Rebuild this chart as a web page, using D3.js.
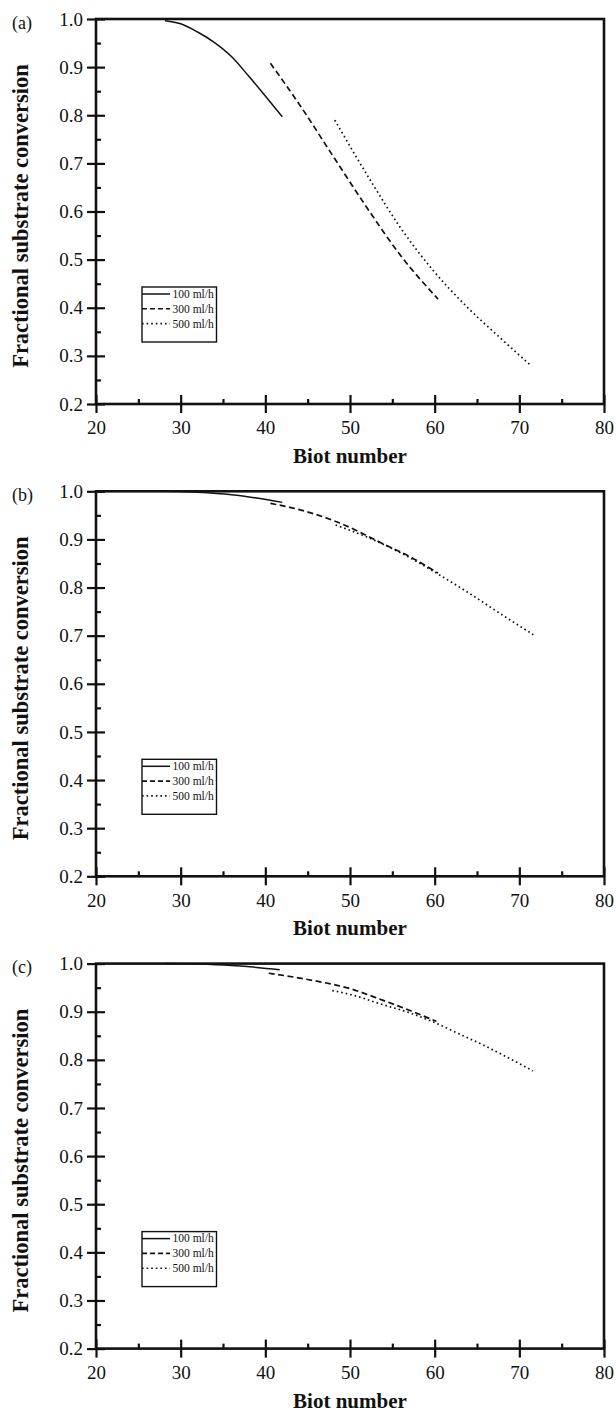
<!DOCTYPE html>
<html>
<head>
<meta charset="utf-8">
<script src="https://cdn.jsdelivr.net/npm/d3@7"></script>
<style>
  html, body { margin: 0; padding: 0; background: #fff; }
  svg { display: block; }
</style>
</head>
<body>
<svg id="chart" width="616" height="1412"></svg>
<script>
// Axis ticks and labels
const xMajor = [20, 30, 40, 50, 60, 70, 80];
const xMinor = [25, 35, 45, 55, 65, 75];
const yMajor = [0.2, 0.3, 0.4, 0.5, 0.6, 0.7, 0.8, 0.9, 1.0];
const yMinor = [0.25, 0.35, 0.45, 0.55, 0.65, 0.75, 0.85, 0.95];
const panelLabels = ["(a)", "(b)", "(c)"];
const flowRates = ["100 ml/h", "300 ml/h", "500 ml/h"];
const xTitle = "Biot number";
const yTitle = "Fractional substrate conversion";

// Panel (a): [Biot number, fractional conversion]
const a100 = [[28.15, 0.9965], [30, 0.99], [32, 0.973], [34, 0.951], [36, 0.922], [38, 0.882], [40, 0.84], [42, 0.797]];
const a300 = [[40.6, 0.908], [44, 0.823], [48, 0.715], [52, 0.608], [56, 0.508], [60.4, 0.418]];
const a500 = [[48.2, 0.79], [52.4, 0.665], [55.9, 0.568], [59.8, 0.478], [63.8, 0.402], [67.7, 0.338], [71.3, 0.281]];

// Panel (b)
const b100 = [[28.2, 1.0], [32, 0.998], [36, 0.993], [39, 0.986], [42, 0.977]];
const b300 = [[40.6, 0.975], [44, 0.962], [48.8, 0.934], [53.9, 0.891], [57.5, 0.86], [60.4, 0.83]];
const b500 = [[48.3, 0.93], [52, 0.905], [56, 0.872], [60.4, 0.828], [64, 0.789], [68, 0.743], [71.65, 0.702]];

// Panel (c)
const c100 = [[28.2, 1.0], [32, 0.999], [36, 0.996], [39, 0.992], [41.7, 0.987]];
const c300 = [[40.4, 0.98], [45, 0.967], [50, 0.948], [54, 0.923], [57, 0.903], [60.2, 0.88]];
const c500 = [[47.9, 0.944], [50, 0.936], [54, 0.914], [57, 0.898], [59.8, 0.879], [63, 0.853], [65.7, 0.831], [68.5, 0.806], [71.6, 0.777]];

const panels = [[a100, a300, a500], [b100, b300, b500], [c100, c300, c500]];

// Line styles per flow rate
const dashes = [null, "6,3.5", "1.6,3"];

const serif = "'Liberation Serif', 'Times New Roman', serif";
const ink = "#111";

const svg = d3.select("#chart");
const plotLeft = 96, plotRight = 604, plotTop = 19, plotBottom = 404;
const panelStep = 472.3;

const x = d3.scaleLinear().domain([20, 80]).range([plotLeft, plotRight]);
const y = d3.scaleLinear().domain([0.2, 1.0]).range([plotBottom, plotTop]);

const line = d3.line()
  .x(d => x(d[0]))
  .y(d => y(d[1]))
  .curve(d3.curveMonotoneX);

function styleAxis(g) {
  g.select(".domain").remove();
  g.selectAll(".tick line").attr("stroke", ink).attr("stroke-width", 2.2);
  g.selectAll(".tick text").attr("font-size", 19).attr("font-family", serif).attr("fill", ink);
}

panels.forEach((series, i) => {
  const g = svg.append("g")
    .attr("transform", `translate(0,${i * panelStep})`)
    .attr("font-family", serif);

  // Curves
  series.forEach((pts, k) => {
    g.append("path")
      .datum(pts)
      .attr("fill", "none")
      .attr("stroke", ink)
      .attr("stroke-width", k === 0 ? 1.5 : 1.7)
      .attr("stroke-dasharray", dashes[k])
      .attr("d", line);
  });

  // Left axis: outward ticks with labels, inward major and minor ticks
  g.append("g").attr("transform", `translate(${plotLeft},0)`)
    .call(d3.axisLeft(y).tickValues(yMajor).tickSize(9).tickPadding(4).tickFormat(d3.format(".1f")))
    .call(styleAxis);
  g.append("g").attr("transform", `translate(${plotLeft},0)`)
    .call(d3.axisLeft(y).tickValues(yMajor).tickSize(-9).tickFormat(""))
    .call(styleAxis);
  g.append("g").attr("transform", `translate(${plotLeft},0)`)
    .call(d3.axisLeft(y).tickValues(yMinor).tickSize(-5).tickFormat(""))
    .call(styleAxis);

  // Bottom axis
  g.append("g").attr("transform", `translate(0,${plotBottom})`)
    .call(d3.axisBottom(x).tickValues(xMajor).tickSize(9).tickPadding(8))
    .call(styleAxis);
  g.append("g").attr("transform", `translate(0,${plotBottom})`)
    .call(d3.axisBottom(x).tickValues(xMajor).tickSize(-9).tickFormat(""))
    .call(styleAxis);
  g.append("g").attr("transform", `translate(0,${plotBottom})`)
    .call(d3.axisBottom(x).tickValues(xMinor).tickSize(-5).tickFormat(""))
    .call(styleAxis);

  // Frame
  g.append("rect")
    .attr("x", plotLeft).attr("y", plotTop)
    .attr("width", plotRight - plotLeft).attr("height", plotBottom - plotTop)
    .attr("fill", "none").attr("stroke", ink).attr("stroke-width", 2.6);

  // Panel label
  g.append("text").attr("x", 12).attr("y", 28.5)
    .attr("font-size", 18).attr("fill", ink).text(panelLabels[i]);

  // Axis titles
  g.append("text")
    .attr("x", (plotLeft + plotRight) / 2).attr("y", plotBottom + 59)
    .attr("text-anchor", "middle").attr("font-size", 21).attr("font-weight", "bold").attr("fill", ink)
    .text(xTitle);
  g.append("text")
    .attr("transform", `translate(27.5,${plotTop + 197}) rotate(-90)`)
    .attr("text-anchor", "middle").attr("font-size", 22.5).attr("font-weight", "bold").attr("fill", ink)
    .text(yTitle);

  // Legend
  const lg = g.append("g");
  lg.append("rect")
    .attr("x", 142).attr("y", 287).attr("width", 74.5).attr("height", 55)
    .attr("fill", "#fff").attr("stroke", ink).attr("stroke-width", 1.4);
  flowRates.forEach((name, k) => {
    const ly = 294 + k * 14.8;
    lg.append("line")
      .attr("x1", 142).attr("x2", 170).attr("y1", ly).attr("y2", ly)
      .attr("stroke", ink).attr("stroke-width", k === 0 ? 1.5 : 1.6)
      .attr("stroke-dasharray", k === 0 ? null : (k === 1 ? "5,3" : "1.6,3"));
    lg.append("text")
      .attr("x", 172.5).attr("y", ly + 3.9)
      .attr("font-size", 11.5).attr("fill", ink).text(name);
  });
});
</script>
</body>
</html>
